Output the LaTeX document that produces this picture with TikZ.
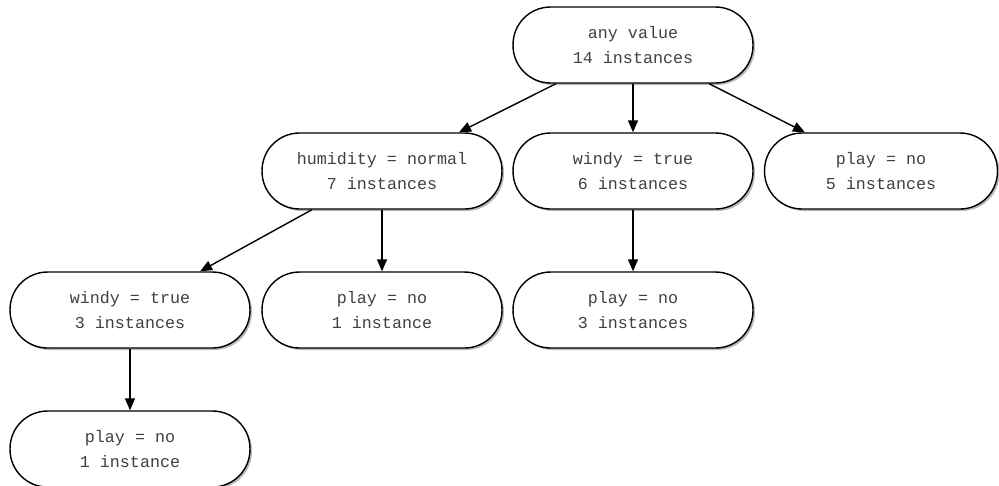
\documentclass[tikz,border=0pt]{standalone}
\usepackage{fontspec}
\setmonofont{Liberation Mono}
\usetikzlibrary{arrows.meta,shadows}
\tikzset{
  leaf/.style = {draw, fill = white, line width = 0.8pt, rectangle, rounded corners = 0.75cm,
    minimum width = 4.8cm, minimum height = 1.52cm, align = center, text = black!75,
    font = \ttfamily\fontsize{9.5}{13.7}\selectfont,
    drop shadow = {shadow xshift = 0.04cm, shadow yshift = -0.04cm, fill = black!45, opacity = 0.6}},
  link/.style = {-{Triangle[length = 0.24cm, width = 0.2cm]}, line width = 0.8pt}
}
\begin{document}
\begin{tikzpicture}[x = 0.02cm, y = -0.02cm]
\useasboundingbox (0,0) rectangle (999,485);
\node[leaf] (top) at (633,45) {any value\\14 instances};
\node[leaf] (hum) at (382,171) {humidity = normal\\7 instances};
\node[leaf] (wnd) at (633,171) {windy = true\\6 instances};
\node[leaf, minimum width = 4.66cm] (pl5) at (881,171) {play = no\\5 instances};
\node[leaf] (wn3) at (130,310) {windy = true\\3 instances};
\node[leaf] (pl1) at (382,310) {play = no\\1 instance};
\node[leaf] (pl3) at (633,310) {play = no\\3 instances};
\node[leaf] (pl0) at (130,449) {play = no\\1 instance};
\draw[link] (top) -- (hum);
\draw[link] (top) -- (wnd);
\draw[link] (top) -- (pl5);
\draw[link] (hum) -- (wn3);
\draw[link] (hum) -- (pl1);
\draw[link] (wnd) -- (pl3);
\draw[link] (wn3) -- (pl0);
\end{tikzpicture}
\end{document}
